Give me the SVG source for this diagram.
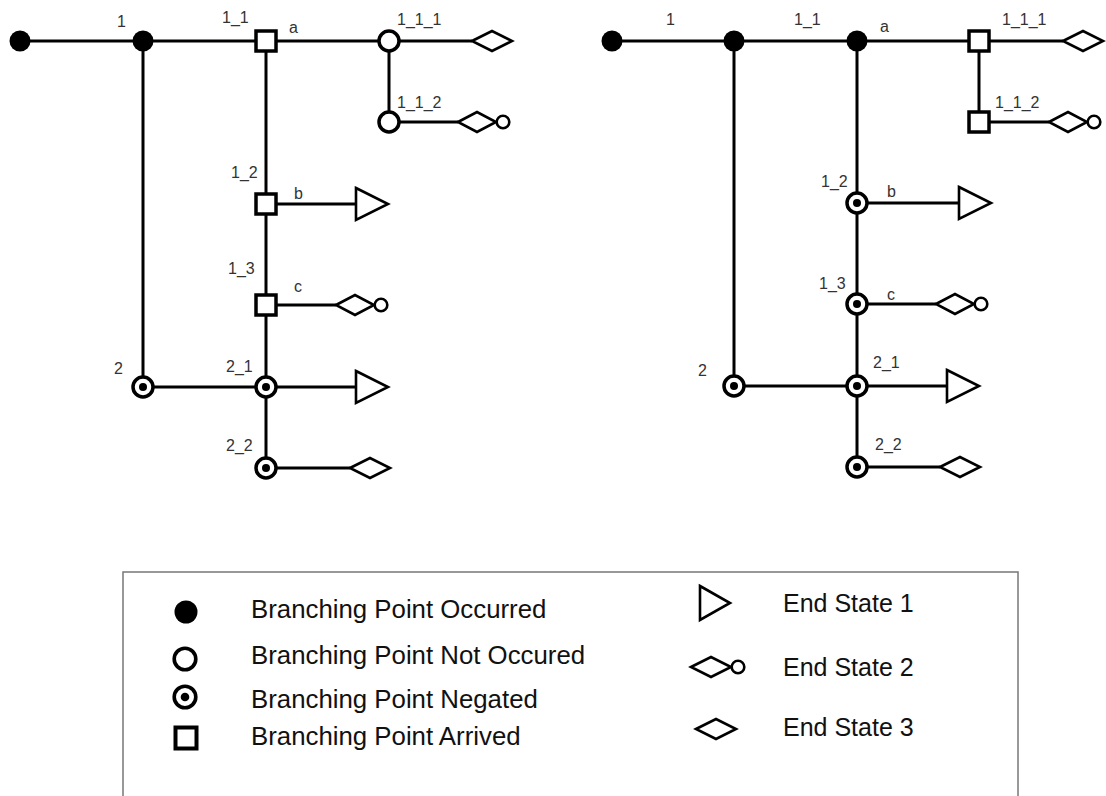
<svg xmlns="http://www.w3.org/2000/svg" xmlns:xlink="http://www.w3.org/1999/xlink" width="1106" height="796" viewBox="0 0 1106 796">
  <style>
    .wire { fill: none; stroke: #000; stroke-width: 3; }
    .lbl { font-family: "Liberation Sans", Arial, sans-serif; font-size: 16px; fill: #333; }
    .leg { font-family: "Liberation Sans", Arial, sans-serif; font-size: 25px; fill: #111; }
    .legw { font-size: 25.8px; }
    .end { fill: #fff; stroke: #000; stroke-width: 2.6; stroke-linejoin: miter; }
  </style>
  <defs>
    <!-- branching point states -->
    <g id="occurred"><circle r="10.5" fill="#000"/></g>
    <g id="notOccurred"><circle r="10" fill="#fff" stroke="#000" stroke-width="3.5"/></g>
    <g id="negated"><circle r="10" fill="#fff" stroke="#000" stroke-width="3.5"/><circle r="4" fill="#000"/></g>
    <g id="arrived"><rect x="-10" y="-10" width="20" height="20" fill="#fff" stroke="#000" stroke-width="3.5"/></g>
    <!-- end states, origin at left tip -->
    <g id="end1"><polygon class="end" points="0,-16 32,0 0,16"/></g>
    <g id="end2"><polygon class="end" points="0,0 19,-10 38,0 19,10"/><circle class="end" cx="45" cy="0" r="6.3"/></g>
    <g id="end3"><polygon class="end" points="0,0 20,-10 40,0 20,10"/></g>
  </defs>

  <!-- connectors -->
  <g id="connectors">
    <path class="wire" d="M20,41 H472"/>
    <path class="wire" d="M143,41 V387 H356"/>
    <path class="wire" d="M266,41 V468 H350"/>
    <path class="wire" d="M266,204 H356"/>
    <path class="wire" d="M266,305 H336"/>
    <path class="wire" d="M389,41 V122 H458"/>

    <path class="wire" d="M612,41 H1063"/>
    <path class="wire" d="M734,41 V386 H947"/>
    <path class="wire" d="M857,41 V467 H940"/>
    <path class="wire" d="M857,203 H959"/>
    <path class="wire" d="M857,304 H936"/>
    <path class="wire" d="M979,41 V122 H1049"/>
  </g>

  <!-- left tree -->
  <g id="L_start"><use xlink:href="#occurred" x="20" y="41"/></g>
  <g id="L_1"><use xlink:href="#occurred" x="143" y="41"/><text class="lbl" x="117" y="27">1</text></g>
  <g id="L_1_1"><use xlink:href="#arrived" x="266" y="41"/><text class="lbl" x="222" y="23">1_1</text><text class="lbl" x="289" y="33">a</text></g>
  <g id="L_1_1_1"><use xlink:href="#notOccurred" x="389" y="41"/><text class="lbl" x="397" y="25">1_1_1</text></g>
  <g id="L_1_1_2"><use xlink:href="#notOccurred" x="389" y="122"/><text class="lbl" x="397" y="108">1_1_2</text></g>
  <g id="L_1_2"><use xlink:href="#arrived" x="266" y="204"/><text class="lbl" x="231" y="178">1_2</text><text class="lbl" x="294" y="199">b</text></g>
  <g id="L_1_3"><use xlink:href="#arrived" x="266" y="305"/><text class="lbl" x="228" y="274">1_3</text><text class="lbl" x="294" y="292">c</text></g>
  <g id="L_2"><use xlink:href="#negated" x="143" y="387"/><text class="lbl" x="114" y="374">2</text></g>
  <g id="L_2_1"><use xlink:href="#negated" x="266" y="387"/><text class="lbl" x="226" y="372">2_1</text></g>
  <g id="L_2_2"><use xlink:href="#negated" x="266" y="468"/><text class="lbl" x="226" y="451">2_2</text></g>
  <g id="L_ends">
    <use xlink:href="#end3" x="472" y="41"/>
    <use xlink:href="#end2" x="458" y="122"/>
    <use xlink:href="#end1" x="356" y="204"/>
    <use xlink:href="#end2" x="336" y="305"/>
    <use xlink:href="#end1" x="356" y="387"/>
    <use xlink:href="#end3" x="350" y="468"/>
  </g>

  <!-- right tree -->
  <g id="R_start"><use xlink:href="#occurred" x="612" y="41"/></g>
  <g id="R_1"><use xlink:href="#occurred" x="734" y="41"/><text class="lbl" x="666" y="25">1</text></g>
  <g id="R_1_1"><use xlink:href="#occurred" x="857" y="41"/><text class="lbl" x="794" y="25">1_1</text><text class="lbl" x="880" y="32">a</text></g>
  <g id="R_1_1_1"><use xlink:href="#arrived" x="979" y="41"/><text class="lbl" x="1002" y="25">1_1_1</text></g>
  <g id="R_1_1_2"><use xlink:href="#arrived" x="979" y="122"/><text class="lbl" x="995" y="108">1_1_2</text></g>
  <g id="R_1_2"><use xlink:href="#negated" x="857" y="203"/><text class="lbl" x="821" y="187">1_2</text><text class="lbl" x="887" y="197">b</text></g>
  <g id="R_1_3"><use xlink:href="#negated" x="857" y="304"/><text class="lbl" x="819" y="289">1_3</text><text class="lbl" x="887" y="300">c</text></g>
  <g id="R_2"><use xlink:href="#negated" x="734" y="386"/><text class="lbl" x="698" y="376">2</text></g>
  <g id="R_2_1"><use xlink:href="#negated" x="857" y="386"/><text class="lbl" x="873" y="368">2_1</text></g>
  <g id="R_2_2"><use xlink:href="#negated" x="857" y="467"/><text class="lbl" x="875" y="450">2_2</text></g>
  <g id="R_ends">
    <use xlink:href="#end3" x="1063" y="41"/>
    <use xlink:href="#end2" x="1049" y="122"/>
    <use xlink:href="#end1" x="959" y="203"/>
    <use xlink:href="#end2" x="936" y="304"/>
    <use xlink:href="#end1" x="947" y="386"/>
    <use xlink:href="#end3" x="940" y="467"/>
  </g>

  <!-- legend -->
  <g id="legend">
    <rect x="123" y="572" width="895" height="240" fill="none" stroke="#777" stroke-width="1.5"/>
    <circle cx="186" cy="612" r="11.5" fill="#000"/>
    <text class="leg legw" x="251" y="618">Branching Point Occurred</text>
    <circle cx="185" cy="659" r="10.8" fill="#fff" stroke="#000" stroke-width="3.6"/>
    <text class="leg legw" x="251" y="664">Branching Point Not Occured</text>
    <circle cx="185" cy="697" r="10.8" fill="#fff" stroke="#000" stroke-width="3.6"/>
    <circle cx="185" cy="697" r="4.3" fill="#000"/>
    <text class="leg legw" x="251" y="708">Branching Point Negated</text>
    <rect x="175.5" y="727.5" width="21" height="21" fill="#fff" stroke="#000" stroke-width="4"/>
    <text class="leg legw" x="251" y="745">Branching Point Arrived</text>

    <polygon class="end" points="700,586 730,603 700,620"/>
    <text class="leg" x="783" y="612">End State 1</text>
    <polygon class="end" points="691,667 711,657 731,667 711,677"/>
    <circle class="end" cx="738" cy="667" r="6.3"/>
    <text class="leg" x="783" y="676">End State 2</text>
    <polygon class="end" points="696,729 716,719 736,729 716,739"/>
    <text class="leg" x="783" y="736">End State 3</text>
  </g>
</svg>
